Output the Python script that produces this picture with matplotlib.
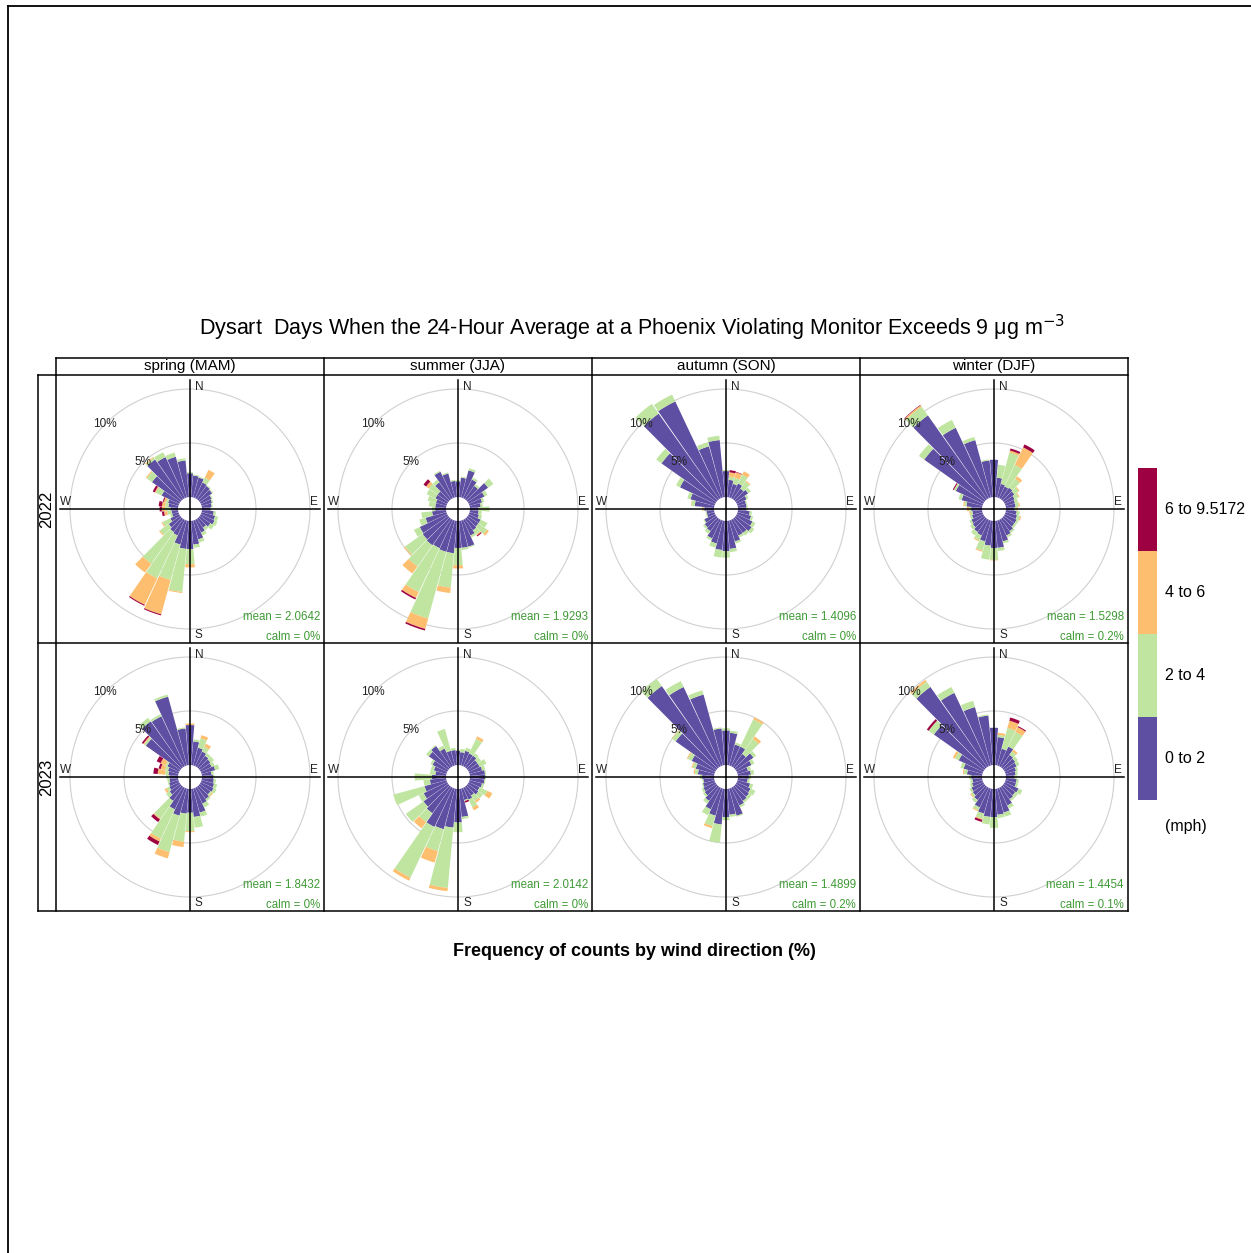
import numpy as np
import matplotlib
matplotlib.use('Agg')
import matplotlib.pyplot as plt
from matplotlib.lines import Line2D

plt.rcParams['font.family'] = ['Liberation Sans', 'DejaVu Sans']

# ---------------- data (percent of counts, per 10 degree sector) ----------------
directions = np.arange(10, 361, 10)
speed_bins = ['0 to 2', '2 to 4', '4 to 6', '6 to 9.5172']
bin_colors = ['#5E4FA2', '#BFE5A0', '#FDBF6F', '#9E0142']
seasons = ['spring (MAM)', 'summer (JJA)', 'autumn (SON)', 'winter (DJF)']
years = ['2022', '2023']
means = [['2.0642', '1.9293', '1.4096', '1.5298'],
         ['1.8432', '2.0142', '1.4899', '1.4454']]
calms = [['0%', '0%', '0%', '0.2%'],
         ['0%', '0%', '0.2%', '0.1%']]

# columns: 0-2, 2-4, 4-6, 6-9.5 mph ; rows: 10, 20, ... 360 deg
spring_2022 = [(2.0, 0.1, 0, 0), (1.9, 0.1, 0, 0), (1.6, 0.5, 0.8, 0), (1.5, 0.1, 0, 0),
               (1.4, 0.1, 0, 0), (1.1, 0.1, 0, 0), (1.0, 0.1, 0, 0), (0.9, 0.1, 0, 0),
               (0.8, 0.1, 0, 0), (1.1, 0.2, 0, 0), (1.3, 0.3, 0, 0), (1.4, 0.3, 0, 0),
               (1.2, 0.4, 0, 0), (1.0, 0.3, 0, 0), (1.3, 0.3, 0, 0), (1.8, 0.3, 0, 0),
               (2.2, 0.3, 0, 0), (2.6, 1.4, 0.3, 0), (2.6, 4.0, 0.1, 0), (2.3, 3.4, 3.3, 0.1),
               (1.6, 4.4, 2.7, 0.1), (1.5, 3.6, 1.0, 0), (1.3, 1.0, 0.1, 0), (0.9, 0.8, 0.1, 0),
               (0.6, 0.2, 0, 0), (0.6, 0.4, 0.3, 0.2), (0.7, 0.5, 0.3, 0.2), (0.9, 0.3, 0.3, 0.3),
               (1.0, 0.2, 0.2, 0.1), (1.8, 0.6, 0.1, 0.2), (3.2, 0.6, 0.1, 0), (4.5, 0.2, 0.1, 0),
               (4.2, 0.5, 0, 0), (3.9, 0.4, 0, 0), (3.4, 0.2, 0, 0), (2.2, 0.1, 0, 0)]
summer_2022 = [(1.8, 0.1, 0, 0), (2.6, 0.2, 0, 0), (1.9, 0.2, 0, 0), (1.5, 0.2, 0, 0),
               (2.3, 0.6, 0, 0), (1.6, 0.3, 0, 0), (1.2, 0.2, 0, 0), (1.0, 0.2, 0, 0),
               (0.8, 1.0, 0, 0), (0.8, 0.3, 0, 0), (0.9, 0.3, 0, 0), (1.2, 0.7, 0, 0),
               (1.2, 1.0, 0.2, 0), (1.3, 0.5, 0.1, 0.1), (1.6, 0.2, 0, 0), (2.5, 0.1, 0, 0),
               (2.5, 0.2, 0, 0), (2.5, 1.6, 0.3, 0), (3.0, 3.2, 0.5, 0), (3.0, 6.4, 1.0, 0.15),
               (2.9, 4.5, 0.6, 0.15), (3.0, 2.4, 0.8, 0), (2.9, 2.0, 0.1, 0), (2.8, 0.6, 0, 0),
               (2.0, 0.6, 0, 0), (1.3, 1.0, 0, 0), (1.0, 0.3, 0, 0), (1.0, 0.6, 0, 0),
               (1.0, 0.8, 0, 0), (1.2, 0.9, 0, 0), (1.2, 1.0, 0.3, 0.3), (1.9, 0.3, 0, 0),
               (2.7, 0.1, 0, 0), (2.3, 0.1, 0, 0), (1.5, 0.1, 0, 0), (1.45, 0.1, 0, 0)]
autumn_2022 = [(1.6, 0.3, 0.4, 0.2), (1.3, 0.6, 0.5, 0.05), (1.5, 0.9, 0.35, 0), (1.2, 0.8, 0.1, 0),
               (1.4, 0.3, 0, 0), (1.0, 0.2, 0, 0), (0.8, 0.1, 0, 0), (0.8, 0.1, 0, 0),
               (0.8, 0.1, 0, 0), (1.1, 0.2, 0, 0), (1.3, 0.2, 0, 0), (1.6, 0.3, 0, 0),
               (1.8, 0.3, 0, 0), (1.6, 0.3, 0, 0), (1.6, 0.2, 0, 0), (2.0, 0.2, 0, 0),
               (2.6, 0.3, 0, 0), (2.8, 0.6, 0, 0), (2.7, 0.7, 0, 0), (2.2, 0.4, 0, 0),
               (1.9, 0.2, 0, 0), (1.4, 0.3, 0, 0), (1.3, 0.2, 0, 0), (1.1, 0.1, 0, 0),
               (0.7, 0.1, 0, 0), (0.7, 0.1, 0, 0), (0.9, 0.1, 0.1, 0), (1.8, 0.3, 0.05, 0),
               (2.3, 0.3, 0, 0), (3.6, 0.4, 0, 0), (6.2, 0.6, 0, 0), (9.7, 1.1, 0, 0),
               (9.9, 0.7, 0, 0), (4.9, 0.4, 0, 0), (5.3, 0.4, 0, 0), (2.4, 0.1, 0, 0)]
winter_2022 = [(1.8, 1.2, 0, 0), (1.3, 3.0, 0.2, 0.2), (1.2, 2.2, 1.8, 0.3), (1.3, 1.0, 0.3, 0),
               (1.2, 0.5, 0.1, 0), (1.0, 0.4, 0.1, 0), (0.9, 0.3, 0, 0), (0.9, 0.3, 0.1, 0),
               (0.8, 0.2, 0.1, 0), (1.0, 0.3, 0, 0), (1.1, 0.3, 0.1, 0), (1.2, 0.2, 0, 0),
               (1.2, 0.2, 0, 0), (1.4, 0.2, 0, 0), (1.6, 0.2, 0, 0), (2.0, 0.2, 0, 0),
               (2.5, 0.3, 0, 0), (2.5, 1.1, 0.05, 0), (2.3, 1.3, 0, 0), (2.0, 0.9, 0.1, 0),
               (1.6, 0.5, 0.1, 0), (1.5, 0.4, 0, 0), (1.3, 0.3, 0, 0), (1.2, 0.2, 0, 0),
               (1.0, 0.2, 0, 0), (0.9, 0.2, 0.1, 0), (1.0, 0.2, 0.2, 0), (1.45, 0.2, 0.1, 0),
               (2.0, 0.3, 0, 0), (2.8, 0.2, 0, 0.1), (6.8, 0.6, 0, 0), (9.5, 1.0, 0.15, 0.05),
               (7.2, 0.8, 0, 0), (5.5, 0.3, 0, 0), (3.4, 0.1, 0, 0), (3.45, 0.0, 0, 0)]
spring_2023 = [(2.2, 0.2, 0, 0), (1.7, 0.9, 0.3, 0), (1.5, 0.5, 0.3, 0), (1.3, 0.3, 0, 0),
               (1.2, 0.4, 0, 0), (1.1, 0.3, 0, 0), (1.3, 0.4, 0, 0), (0.9, 0.2, 0, 0),
               (1.05, 0.1, 0, 0), (1.1, 0.2, 0, 0), (1.2, 0.3, 0, 0), (1.3, 0.3, 0, 0),
               (1.2, 0.2, 0.1, 0), (1.4, 0.2, 0, 0), (1.6, 0.4, 0, 0), (2.3, 0.4, 0, 0),
               (2.6, 1.0, 0, 0), (2.2, 1.7, 0.1, 0), (2.3, 2.6, 0.5, 0), (2.6, 3.5, 0.6, 0),
               (2.2, 3.0, 0.3, 0.35), (1.6, 2.0, 0.1, 0.3), (1.2, 0.4, 0, 0), (1.0, 0.3, 0.2, 0),
               (0.9, 0.1, 0, 0), (0.8, 0.2, 0, 0), (0.8, 0.3, 0, 0), (0.9, 0.3, 0.7, 0.4),
               (1.0, 0.3, 0.4, 0.2), (1.2, 0.2, 0.5, 0.4), (3.9, 0.2, 0.1, 0.15), (5.2, 0.4, 0, 0),
               (5.1, 0.2, 0, 0), (6.6, 0.2, 0, 0), (3.4, 0.1, 0, 0), (3.7, 0.0, 0.15, 0)]
summer_2023 = [(1.2, 0.3, 0, 0), (1.4, 0.3, 0, 0), (1.3, 1.5, 0.25, 0), (1.3, 0.3, 0, 0),
               (1.1, 0.4, 0, 0), (1.1, 0.7, 0, 0), (1.2, 0.3, 0, 0), (1.4, 0.1, 0, 0),
               (1.4, 0.1, 0, 0), (1.35, 0.1, 0, 0), (1.2, 0.2, 0, 0), (1.1, 0.8, 0.5, 0),
               (1.2, 0.5, 0, 0), (1.0, 0.6, 0.2, 0), (1.2, 0.8, 0.3, 0), (1.1, 0.1, 0, 0.15),
               (2.6, 0.2, 0, 0), (3.1, 0.9, 0, 0), (3.6, 5.6, 0.3, 0), (3.9, 2.1, 1.1, 0),
               (4.0, 5.2, 0.3, 0), (3.0, 1.0, 0.7, 0), (2.8, 2.0, 0, 0), (2.4, 0.5, 0, 0),
               (2.1, 3.0, 0, 0), (1.5, 0.6, 0, 0), (1.3, 1.6, 0, 0), (1.0, 0.5, 0, 0),
               (1.2, 0.3, 0, 0), (1.5, 0.2, 0, 0), (2.2, 0.3, 0, 0), (2.4, 0.1, 0, 0),
               (1.8, 0.3, 0, 0), (1.4, 2.1, 0, 0), (1.4, 0.2, 0, 0), (1.3, 0.1, 0, 0)]
autumn_2023 = [(3.0, 0.2, 0, 0), (2.0, 0.2, 0, 0), (2.0, 2.8, 0.2, 0), (1.5, 1.7, 0.3, 0),
               (2.0, 0.3, 0, 0), (1.5, 0.3, 0, 0), (1.0, 0.3, 0, 0), (1.2, 0.3, 0, 0),
               (1.0, 0.2, 0, 0), (0.9, 0.2, 0, 0), (1.2, 0.3, 0, 0), (1.4, 0.5, 0, 0),
               (1.5, 0.3, 0, 0), (1.6, 0.2, 0, 0), (1.8, 0.2, 0, 0), (2.6, 0.1, 0, 0),
               (2.4, 0.2, 0, 0), (2.6, 0.3, 0, 0), (3.3, 1.7, 0, 0), (2.6, 1.0, 0.2, 0),
               (2.2, 0.6, 0, 0), (1.6, 0.3, 0, 0), (1.3, 0.2, 0, 0), (1.2, 0.2, 0, 0),
               (1.1, 0.1, 0, 0), (1.0, 0.1, 0, 0), (1.1, 0.2, 0, 0), (1.5, 0.3, 0.1, 0),
               (1.8, 0.3, 0.1, 0), (2.4, 0.4, 0.1, 0), (4.6, 0.4, 0.05, 0), (9.2, 0.8, 0, 0),
               (8.1, 0.6, 0, 0), (6.8, 0.4, 0, 0), (3.4, 0.1, 0, 0), (3.2, 0.2, 0, 0)]
winter_2023 = [(2.6, 0.2, 0.2, 0), (1.6, 2.0, 0.7, 0.3), (2.0, 1.5, 0.5, 0.1), (1.4, 0.4, 0.2, 0),
               (1.3, 0.3, 0, 0), (1.2, 0.3, 0, 0), (1.0, 0.2, 0, 0), (0.9, 0.2, 0, 0),
               (0.8, 0.2, 0, 0), (1.0, 0.2, 0, 0), (1.0, 0.2, 0, 0), (1.4, 0.4, 0, 0),
               (1.3, 0.3, 0, 0), (1.4, 0.2, 0, 0), (1.8, 0.3, 0, 0), (2.3, 0.4, 0, 0),
               (2.4, 0.3, 0, 0), (2.6, 1.0, 0, 0), (2.6, 0.7, 0, 0), (2.4, 0.5, 0.1, 0.2),
               (2.0, 0.3, 0.1, 0), (1.5, 0.3, 0, 0), (1.3, 0.2, 0.1, 0), (1.2, 0.2, 0, 0),
               (1.0, 0.2, 0, 0), (0.9, 0.2, 0, 0), (1.0, 0.2, 0, 0), (1.4, 0.3, 0.1, 0),
               (1.8, 0.3, 0, 0), (2.5, 0.4, 0.2, 0), (5.7, 0.6, 0, 0.2), (9.1, 0.6, 0.2, 0),
               (7.5, 0.6, 0, 0), (5.6, 0.6, 0, 0), (4.6, 0.1, 0, 0), (3.45, 0, 0, 0)]

panels = [[spring_2022, summer_2022, autumn_2022, winter_2022],
          [spring_2023, summer_2023, autumn_2023, winter_2023]]

# ---------------- layout (pixels) ----------------
W, H = 1251, 1253
fig = plt.figure(figsize=(W / 100, H / 100), dpi=100)


def fx(x):
    return x / W


def fy(y):
    return 1 - y / H


def hline(x0, x1, y, lw=1.1):
    fig.add_artist(Line2D([fx(x0), fx(x1)], [fy(y), fy(y)], color='black', lw=lw))


def vline(x, y0, y1, lw=1.1):
    fig.add_artist(Line2D([fx(x), fx(x)], [fy(y0), fy(y1)], color='black', lw=lw))


col_x = [56, 324, 592, 860]
row_y = [375, 643]
size = 268
px_per_pct = 10.8
off = 12 / px_per_pct          # hollow centre
rmax = (size / 2) / px_per_pct


def pol(dx, dy):
    # pixel offset from centre -> (theta, r) of the polar axes
    return np.arctan2(dx, -dy), np.hypot(dx, dy) / px_per_pct


theta = np.radians(directions)
width = np.radians(9.5)
green_txt = '#3f9a35'

for i in range(2):
    for j in range(4):
        ax = fig.add_axes([fx(col_x[j]), fy(row_y[i] + size), size / W, size / H],
                          projection='polar')
        ax.set_theta_zero_location('N')
        ax.set_theta_direction(-1)
        ax.set_ylim(0, rmax)
        ax.grid(False)
        ax.set_xticks([])
        ax.set_yticks([])
        ax.spines['polar'].set_visible(False)

        vals = np.array(panels[i][j], dtype=float)
        cum = np.zeros(len(directions))
        for k in range(4):
            ax.bar(theta, vals[:, k], width=width, bottom=off + cum,
                   color=bin_colors[k], linewidth=0, zorder=2)
            cum += vals[:, k]

        circ = np.linspace(0, 2 * np.pi, 361)
        for p in [5, 10]:
            ax.plot(circ, np.full_like(circ, off + p), color='#d0d0d0', lw=0.8, zorder=1)
            t, r = np.radians(315), off + p
            ax.text(t, r, '%d%%' % p, fontsize=8.5, color='#222222',
                    ha='center', va='center', zorder=4)

        for t, r in [(0, 129), (np.pi / 2, 130), (np.pi, 134), (3 * np.pi / 2, 130)]:
            ax.plot([t, t], [0, r / px_per_pct], color='black', lw=1.1, zorder=3)

        for lab, dx, dy, ha in [('N', 5, -122, 'left'), ('S', 5, 126, 'left'),
                                ('W', -130, -7, 'left'), ('E', 128, -7, 'right')]:
            t, r = pol(dx, dy)
            ax.text(t, r, lab, fontsize=8.5, color='#222222', ha=ha, va='center', zorder=4)

        ax.text(0.985, 0.097, 'mean = ' + means[i][j], transform=ax.transAxes,
                fontsize=8.3, color=green_txt, ha='right', va='center')
        ax.text(0.985, 0.022, 'calm = ' + calms[i][j], transform=ax.transAxes,
                fontsize=8.3, color=green_txt, ha='right', va='center')

# strips and frame
hline(56, 1128, 358)
hline(38, 1128, 375)
hline(38, 1128, 643)
hline(38, 1128, 911)
vline(38, 375, 911)
vline(56, 358, 911)
for x in [324, 592, 860]:
    vline(x, 358, 911)
vline(1128, 358, 911)

for j, s in enumerate(seasons):
    fig.text(fx(col_x[j] + size / 2), fy(366.5), s, fontsize=11, ha='center', va='center')
for i, yr in enumerate(years):
    fig.text(fx(47), fy(row_y[i] + size / 2), yr, fontsize=12, rotation=90,
             ha='center', va='center')

fig.text(fx(632), fy(328),
         'Dysart  Days When the 24-Hour Average at a Phoenix Violating Monitor Exceeds 9 \u03bcg m$^{-3}$',
         fontsize=15.5, ha='center', va='center')
fig.text(fx(634), fy(951), 'Frequency of counts by wind direction (%)',
         fontsize=13, fontweight='bold', ha='center', va='center')

# colour key
lax = fig.add_axes([fx(1138), fy(800), 19 / W, 332 / H])
lax.bar(np.zeros(4), np.ones(4), bottom=np.arange(4), width=1, color=bin_colors, linewidth=0)
lax.set_xlim(-0.5, 0.5)
lax.set_ylim(0, 4)
lax.axis('off')
for k, lab in enumerate(speed_bins):
    fig.text(fx(1165), fy(800 - 83 * (k + 0.5)), lab, fontsize=11.5, ha='left', va='center')
fig.text(fx(1165), fy(827), '(mph)', fontsize=11.5, ha='left', va='center')

# outer border of the image
hline(8, 1251, 6, lw=1.3)
vline(8, 6, 1253, lw=1.3)

fig.savefig('out.png', dpi=100)
